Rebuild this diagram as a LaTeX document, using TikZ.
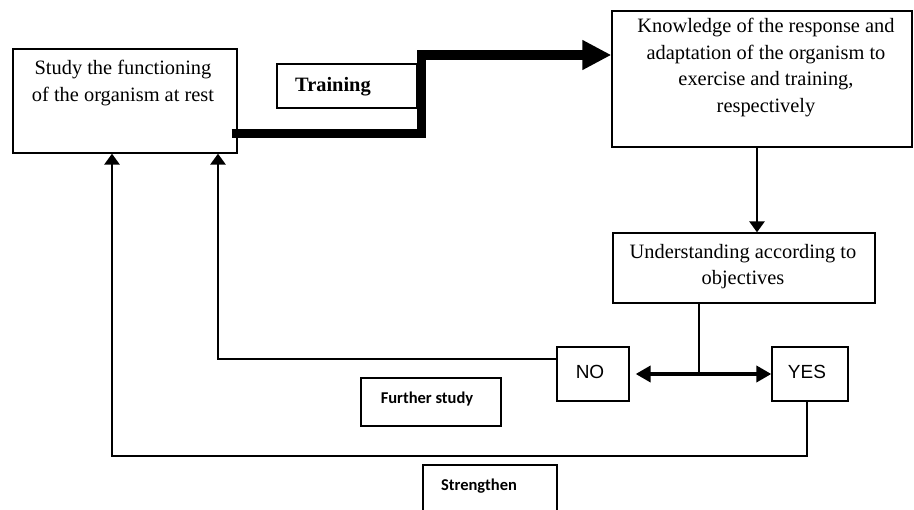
\documentclass[tikz,border=0pt]{standalone}
\usepackage{fontspec}
\setmainfont{Liberation Serif}
\newfontfamily\sansA{Liberation Sans}
\newfontfamily\calib{Carlito}
\usetikzlibrary{arrows.meta,calc}
\begin{document}
\begin{tikzpicture}[x=1pt,y=-1pt,
  box/.style={draw, line width=1.3pt, inner sep=0pt},
  txt/.style={inner sep=0pt, align=center, font=\fontsize{20.4}{26.5}\selectfont},
  smalltxt/.style={inner sep=0pt, font=\calib\bfseries\fontsize{16.5}{20}\selectfont},
  yn/.style={inner sep=0pt, font=\sansA\fontsize{19}{22}\selectfont},
  thinl/.style={line width=1.3pt},
  arr/.style={line width=2.8pt, -{Triangle[length=11pt,width=15pt]}},
  thickarrow/.style={line width=9.5pt, line join=miter, -{Triangle[length=29pt,width=28pt]}},
  dbl/.style={line width=4.5pt, {Triangle[length=15pt,width=16pt]}-{Triangle[length=15pt,width=16pt]}}
]
\clip (0,0) rectangle (914,510);
\fill[white] (0,0) rectangle (914,510);

% boxes
\node[box, minimum width=224pt, minimum height=104pt] (study) at (125,101) {};
\node[box, minimum width=140pt, minimum height=44pt] (train) at (347,86) {};
\node[box, minimum width=300pt, minimum height=136pt] (know) at (762,79) {};
\node[box, minimum width=262pt, minimum height=70pt] (und) at (744,268) {};
\node[box, minimum width=72pt, minimum height=54pt] (no) at (593,374) {};
\node[box, minimum width=76pt, minimum height=54pt] (yes) at (810,374) {};
\node[box, minimum width=140pt, minimum height=48pt] (fs) at (431,402) {};
\node[box, minimum width=134pt, minimum height=60pt] (st) at (490,495) {};

% texts
\node[txt] (studyT) at (123,83) {Study the functioning\\of the organism at rest};
\node[txt, anchor=west, font=\bfseries\fontsize{20.4}{24}\selectfont] (trainT) at (295,87) {Training};
\node[txt] (knowT) at (766,67.5) {Knowledge of the response and\\adaptation of the organism to\\exercise and training,\\respectively};
\node[txt] (undT) at (743,266.5) {Understanding according to\\objectives};
\node[yn] (noT) at (590,372) {NO};
\node[yn] (yesT) at (807,372) {YES};
\node[smalltxt] (fsT) at (427,399) {Further study};
\node[smalltxt] (stT) at (479,486) {Strengthen};

% thick training connector
\draw[thickarrow] ([xshift=-6pt,yshift=20pt]study.south east) -- ++(190,0) |- ([yshift=24pt]know.west);

% knowledge -> understanding
\path ([xshift=-5pt]know.south) coordinate (k1);
\coordinate (k2) at (k1 |- und.north);
\draw[arr] (k1) -- (k2);

% understanding -> junction -> NO / YES
\path ([xshift=-45pt]und.south) coordinate (u1);
\coordinate (j) at (u1 |- no.east);
\draw[thinl] (u1) -- (j);
\draw[dbl] ([xshift=6pt]no.east) -- (yes.west);

% NO -> study
\path ([xshift=93pt]study.south) coordinate (s2) ([yshift=15pt]no.west) coordinate (n1);
\coordinate (c1) at (s2 |- n1);
\draw[thinl] (n1) -- (c1);
\draw[arr] ([yshift=-1pt]c1) -- (s2);

% YES -> study
\path ([xshift=-3pt]yes.south) coordinate (y1) ([xshift=-13pt]study.south) coordinate (s1);
\coordinate (y2) at (y1 |- 0,456);
\coordinate (y3) at (s1 |- y2);
\draw[thinl] (y1) -- (y2) -- (y3);
\draw[arr] ([yshift=-1pt]y3) -- (s1);
\end{tikzpicture}
\end{document}
